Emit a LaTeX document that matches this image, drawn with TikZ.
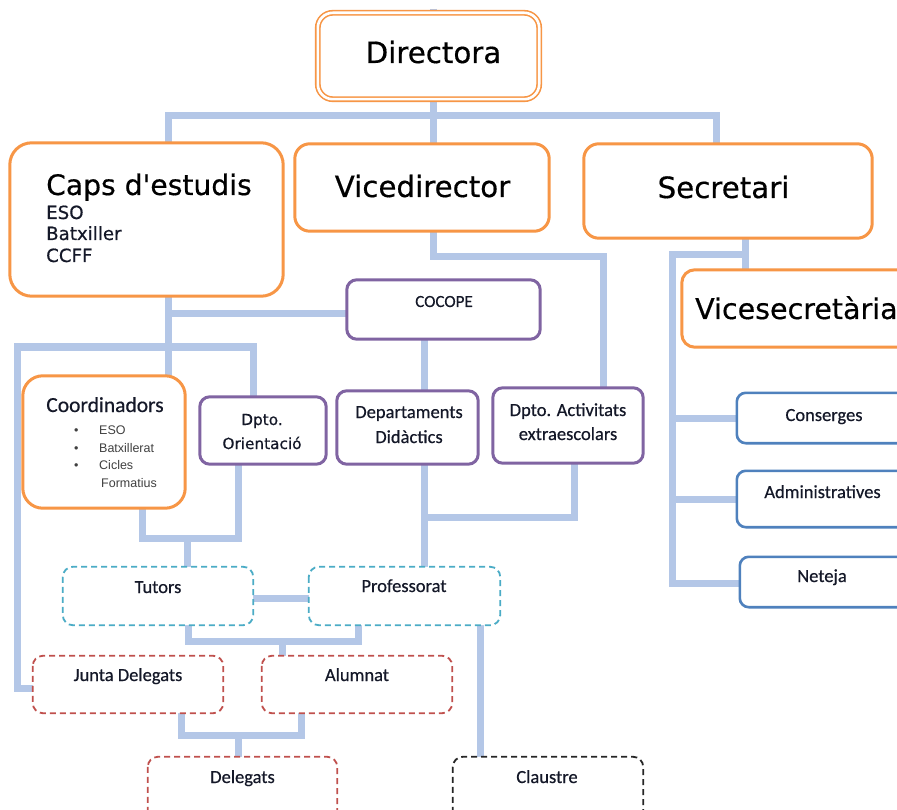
\documentclass[tikz,border=0pt]{standalone}
\usepackage{fontspec}
\newfontfamily\dvf[FakeBold=0.5]{DejaVu Sans}
\newfontfamily\calf[FakeBold=0.5]{Carlito}
\newfontfamily\arf{Liberation Sans}
\definecolor{linec}{HTML}{B4C7E7}
\definecolor{orangec}{HTML}{F79646}
\definecolor{purplec}{HTML}{8064A2}
\definecolor{bluec}{HTML}{4F81BD}
\definecolor{cyanc}{HTML}{4BACC6}
\definecolor{redc}{HTML}{C0504D}
\definecolor{txtc}{HTML}{141828}
\tikzset{
  conn/.style={draw=linec, line width=7pt, line join=miter},
  hid/.style={rectangle, inner sep=0pt, draw=none},
  obox/.style={draw=orangec, fill=white, line width=3pt},
  pbox/.style={draw=purplec, fill=white, line width=3pt, rounded corners=10pt},
  bbox/.style={draw=bluec, fill=white, line width=2.6pt, rounded corners=9pt},
  dbox/.style={fill=white, line width=1.8pt, dash pattern=on 6pt off 4pt, rounded corners=10pt},
  big/.style={inner sep=0pt, anchor=base, text=black, font=\dvf\fontsize{29.3}{33}\selectfont},
  lbl/.style={inner sep=0pt, anchor=base, text=txtc, font=\calf\fontsize{18.5}{22}\selectfont},
  dvs/.style={inner sep=0pt, anchor=base west, text=txtc, font=\dvf\fontsize{18.2}{21}\selectfont},
  itm/.style={inner sep=0pt, anchor=base west, text=black!75, font=\arf\fontsize{12.5}{14}\selectfont},
}
\begin{document}
\begin{tikzpicture}[x=1pt,y=-1pt]
\useasboundingbox (0,0) rectangle (897,810);
\clip (0,0) rectangle (897,810);
\fill[white] (0,0) rectangle (897,810);

% ---------- box frames (named, drawn later) ----------
\path
  (428.5,56)   node[hid, minimum width=221, minimum height=86] (dir) {}
  (146.5,219.5) node[hid, minimum width=273, minimum height=153] (caps) {}
  (422,187.5)  node[hid, minimum width=254, minimum height=87] (vice) {}
  (728,191)    node[hid, minimum width=288, minimum height=94] (sec) {}
  (806,308.5)  node[hid, minimum width=248, minimum height=77] (vsec) {}
  (443.5,309.5) node[hid, minimum width=193, minimum height=59] (cocope) {}
  (104,442)    node[hid, minimum width=162, minimum height=132] (coord) {}
  (263,430.5)  node[hid, minimum width=126, minimum height=67] (orient) {}
  (407.5,427.5) node[hid, minimum width=141, minimum height=73] (depts) {}
  (568,425.5)  node[hid, minimum width=150, minimum height=75] (activ) {}
  (843.5,418)  node[hid, minimum width=213, minimum height=50] (cons) {}
  (843.5,499)  node[hid, minimum width=213, minimum height=56] (admin) {}
  (845,582)    node[hid, minimum width=210, minimum height=50] (net) {}
  (158,596)    node[hid, minimum width=190, minimum height=58] (tutors) {}
  (404.5,596)  node[hid, minimum width=191, minimum height=58] (prof) {}
  (128,684.5)  node[hid, minimum width=190, minimum height=57] (junta) {}
  (357,684.5)  node[hid, minimum width=190, minimum height=57] (alum) {}
  (242.5,793.5) node[hid, minimum width=189, minimum height=73] (deleg) {}
  (548,793.5)  node[hid, minimum width=190, minimum height=73] (claus) {};

% ---------- connectors ----------
\coordinate (top) at (433,9);
\draw[conn] (top) -- (top |- vice.north);
\coordinate (j1) at (168,116);
\coordinate (j2) at (716,116);
\draw[conn] (j1 |- caps.north) -- (j1) -- (j2) -- (j2 |- sec.north);

\coordinate (v1) at (433,257);
\coordinate (v2) at (603,257);
\draw[conn] (v1 |- vice.south) -- (v1) -- (v2) -- (v2 |- activ.north);

\coordinate (s1) at (745,255);
\coordinate (s2) at (672,255);
\coordinate (s3) at (672,583);
\draw[conn] (s1 |- sec.south) -- (s1 |- vsec.north);
\draw[conn] (s1) -- (s2) -- (s3) -- (s3 -| net.west);
\draw[conn] (s2 |- cons.west) -- (cons.west);
\draw[conn] (s2 |- admin.west) -- (admin.west);

\coordinate (c1) at (168,314);
\draw[conn] (c1 |- caps.south) -- (c1 |- coord.north);
\draw[conn] (c1) -- (c1 -| cocope.west);
\coordinate (c2) at (17,347);
\coordinate (c3) at (253,347);
\coordinate (c4) at (17,688);
\draw[conn] (c3 |- orient.north) -- (c3) -- (c2) -- (c4) -- (c4 -| junta.west);

\coordinate (o1) at (142,538);
\coordinate (o2) at (238,538);
\coordinate (o3) at (187,538);
\draw[conn] (o1 |- coord.south) -- (o1) -- (o2) -- (o2 |- orient.south);
\draw[conn] (o3) -- (o3 |- tutors.north);

\coordinate (d1) at (424,517);
\coordinate (d2) at (574,517);
\draw[conn] (d1 |- cocope.south) -- (d1 |- depts.north);
\draw[conn] (d1 |- depts.south) -- (d1 |- prof.north);
\draw[conn] (d1) -- (d2) -- (d2 |- activ.south);

\coordinate (tp) at (280,598);
\draw[conn] (tp -| tutors.east) -- (tp -| prof.west);
\coordinate (t1) at (188,641);
\coordinate (t2) at (358,641);
\coordinate (t3) at (282,641);
\draw[conn] (t1 |- tutors.south) -- (t1) -- (t2) -- (t2 |- prof.south);
\draw[conn] (t3) -- (t3 |- alum.north);

\coordinate (p1) at (480,700);
\draw[conn] (p1 |- prof.south) -- (p1 |- claus.north);

\coordinate (a1) at (181,735);
\coordinate (a2) at (301,735);
\coordinate (a3) at (238,735);
\draw[conn] (a1 |- junta.south) -- (a1) -- (a2) -- (a2 |- alum.south);
\draw[conn] (a3) -- (a3 |- deleg.north);

% ---------- visible boxes ----------
\draw[orangec, fill=white, line width=1.6pt, double=white, double distance=2.6pt, rounded corners=15pt]
  (dir.north west) rectangle (dir.south east);
\draw[obox, rounded corners=22pt] (caps.north west) rectangle (caps.south east);
\draw[obox, rounded corners=15pt] (vice.north west) rectangle (vice.south east);
\draw[obox, rounded corners=15pt] (sec.north west) rectangle (sec.south east);
\draw[obox, rounded corners=13pt] (vsec.north west) rectangle (vsec.south east);
\draw[obox, rounded corners=20pt] (coord.north west) rectangle (coord.south east);
\draw[pbox] (cocope.north west) rectangle (cocope.south east);
\draw[pbox] (orient.north west) rectangle (orient.south east);
\draw[pbox] (depts.north west) rectangle (depts.south east);
\draw[pbox] (activ.north west) rectangle (activ.south east);
\draw[bbox] (cons.north west) rectangle (cons.south east);
\draw[bbox] (admin.north west) rectangle (admin.south east);
\draw[bbox] (net.north west) rectangle (net.south east);
\draw[dbox, draw=cyanc] (tutors.north west) rectangle (tutors.south east);
\draw[dbox, draw=cyanc] (prof.north west) rectangle (prof.south east);
\draw[dbox, draw=redc] (junta.north west) rectangle (junta.south east);
\draw[dbox, draw=redc] (alum.north west) rectangle (alum.south east);
\draw[dbox, draw=redc] (deleg.north west) rectangle (deleg.south east);
\draw[dbox, draw=black!85] (claus.north west) rectangle (claus.south east);

% ---------- texts ----------
\node[big] (dir-t) at (433.5,63) {Directora};
\node[big] (vice-t) at (422.5,197) {Vicedirector};
\node[big] (sec-t) at (723.5,198) {Secretari};
\node[big, anchor=base west, font=\dvf\fontsize{28.5}{32}\selectfont] (vsec-t) at (695,319) {Vicesecretària};
\node[big, anchor=base west, font=\dvf\fontsize{28.2}{32}\selectfont] (caps-t) at (46,195) {Caps d'estudis};
\node[dvs] (caps-t1) at (46,219) {ESO};
\node[dvs] (caps-t2) at (46,240) {Batxiller};
\node[dvs] (caps-t3) at (46,262) {CCFF};

\node[lbl, font=\calf\fontsize{17}{20}\selectfont] (cocope-t) at (444,307) {COCOPE};
\node[lbl, font=\calf\fontsize{21.5}{24}\selectfont] (coord-t) at (105,412) {Coordinadors};
\node[itm] (b1) at (74,434) {•};
\node[itm] (b2) at (74,452) {•};
\node[itm] (b3) at (74,469) {•};
\node[itm] (i1) at (99,434) {ESO};
\node[itm] (i2) at (99,452) {Batxillerat};
\node[itm] (i3) at (99,469) {Cicles};
\node[itm] (i4) at (101,487) {Formatius};

\node[lbl, font=\dvf\fontsize{15.3}{18}\selectfont] (orient-t1) at (262,425) {Dpto.};
\node[lbl, font=\dvf\fontsize{15.3}{18}\selectfont] (orient-t2) at (262,449) {Orientació};
\node[lbl] (depts-t1) at (409,418) {Departaments};
\node[lbl] (depts-t2) at (409,443) {Didàctics};
\node[lbl] (activ-t1) at (568,416) {Dpto. Activitats};
\node[lbl] (activ-t2) at (568,440) {extraescolars};

\node[lbl] (cons-t) at (824,421) {Conserges};
\node[lbl] (admin-t) at (822.5,498) {Administratives};
\node[lbl] (net-t) at (822,582) {Neteja};

\node[lbl] (tutors-t) at (158,593) {Tutors};
\node[lbl] (prof-t) at (404,592) {Professorat};
\node[lbl] (junta-t) at (128,681) {Junta Delegats};
\node[lbl] (alum-t) at (357,681) {Alumnat};
\node[lbl] (deleg-t) at (242.5,783) {Delegats};
\node[lbl] (claus-t) at (547,783) {Claustre};
\end{tikzpicture}
\end{document}
